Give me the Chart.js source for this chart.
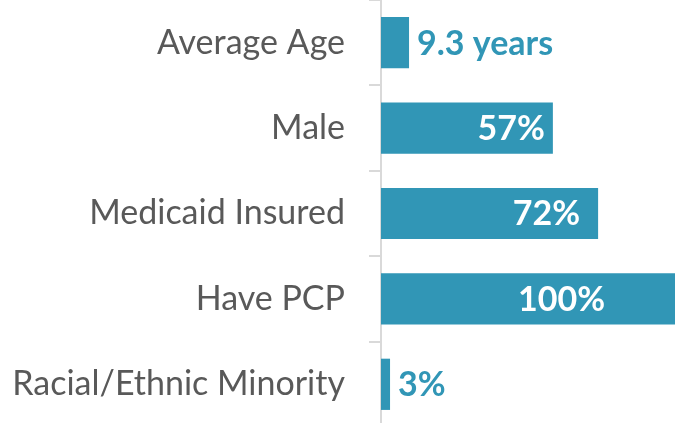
<!DOCTYPE html>
<html>
<head>
<meta charset="utf-8">
<script src="https://cdn.jsdelivr.net/npm/chart.js@4.4.0/dist/chart.umd.min.js"></script>
<style>
  html, body { margin: 0; padding: 0; background: #fff; overflow: hidden; }
  #wrap { position: relative; width: 675px; height: 427px; }
</style>
</head>
<body>
<div id="wrap"><canvas id="chart"></canvas></div>
<script>
"use strict";

// Chart data
var categories = ["Average Age", "Male", "Medicaid Insured", "Have PCP", "Racial/Ethnic Minority"];
var values = [9.3, 57, 72, 100, 3];
var valueLabels = ["9.3 years", "57%", "72%", "100%", "3%"];
var labelInside = [false, true, true, true, false];

var BAR_COLOR = "#3196b6";
var TEXT_GRAY = "#595959";
var AXIS_GRAY = "#d9d9d9";
var FONT = "Lato, 'Open Sans', sans-serif";

// draws the value labels next to / inside each bar
var valueLabelPlugin = {
  id: "valueLabels",
  afterDatasetsDraw: function(chart, args, opts) {
    var ctx = chart.ctx;
    var area = chart.chartArea;
    var meta = chart.getDatasetMeta(0);
    ctx.save();
    ctx.font = "bold 34px " + FONT;
    ctx.textBaseline = "middle";
    meta.data.forEach(function(bar, i) {
      var txt = valueLabels[i];
      var end = Math.min(bar.x, area.right);
      if (labelInside[i]) {
        ctx.fillStyle = "#ffffff";
        ctx.textAlign = "right";
        ctx.fillText(txt, end - opts.insidePad[i], bar.y + 1);
      } else {
        ctx.fillStyle = BAR_COLOR;
        ctx.textAlign = "left";
        ctx.fillText(txt, end + 8, bar.y + 1);
      }
    });
    ctx.restore();
  }
};

new Chart(document.getElementById("chart").getContext("2d"), {
  type: "bar",
  data: {
    labels: categories,
    datasets: [{
      data: values,
      backgroundColor: BAR_COLOR,
      borderWidth: 0,
      categoryPercentage: 0.6,
      barPercentage: 1.0
    }]
  },
  options: {
    indexAxis: "y",
    responsive: true,
    maintainAspectRatio: false,
    animation: false,
    layout: { padding: 0 },
    plugins: {
      legend: { display: false },
      tooltip: { enabled: false },
      valueLabels: { insidePad: [0, 8, 18, 70, 0] }
    },
    scales: {
      x: {
        display: false,
        min: 0,
        max: 97.5
      },
      y: {
        afterFit: function(scale) {
          scale.width = 381;
          scale.paddingTop = 0;
          scale.paddingBottom = 0;
        },
        grid: {
          offset: true,
          drawOnChartArea: false,
          drawTicks: true,
          tickLength: 12,
          color: AXIS_GRAY,
          lineWidth: 2
        },
        border: { display: true, color: AXIS_GRAY, width: 2 },
        ticks: {
          color: TEXT_GRAY,
          padding: 24,
          font: { family: FONT, size: 34 }
        }
      }
    }
  },
  plugins: [valueLabelPlugin]
});
</script>
</body>
</html>
